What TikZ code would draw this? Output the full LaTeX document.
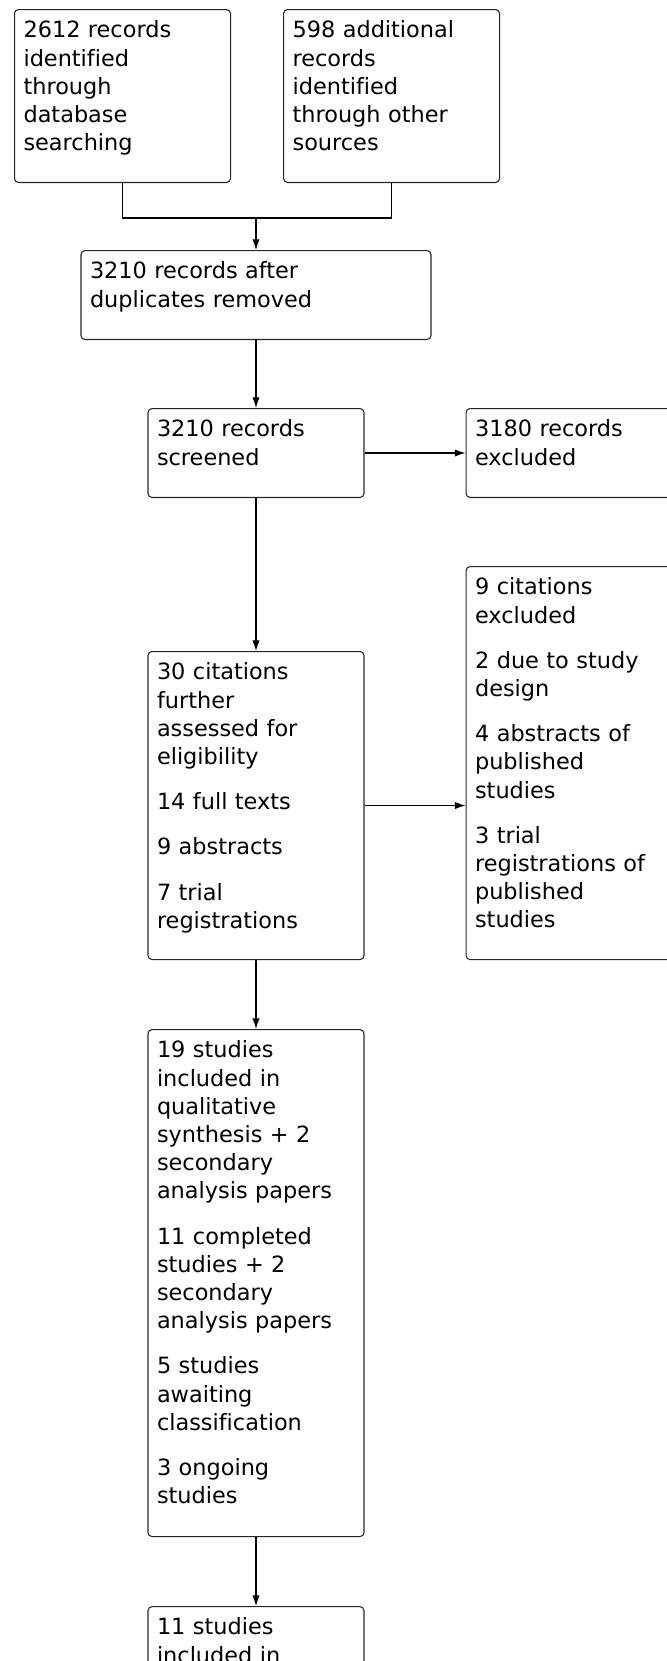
\documentclass[tikz,border=0pt]{standalone}
\usepackage{fontspec}
\setmainfont[Ligatures=NoCommon]{DejaVu Sans}
\usetikzlibrary{positioning,arrows.meta}
\begin{document}
\begin{tikzpicture}[
        box/.style={draw=black!85, line width=0.8pt, rounded corners=3pt,
            align=left, text width=148.5pt, inner xsep=6.75pt, inner ysep=0pt,
            text height=21.2pt, text depth=#1,
            font=\fontsize{16.8pt}{21.15pt}\selectfont},
        wide/.style={box=#1, text width=249pt},
        arr/.style={line width=0.9pt, -{Latex[length=8pt,width=5.5pt]}}
    ]
    \useasboundingbox (0,0) rectangle (500.25pt,-1245.75pt);
    \clip (0,0) rectangle (500.25pt,-1245.75pt);
    \node[box=108.5pt, anchor=north west] (id1) at (10.5pt,-6.75pt)
        {2612 records\\identified\\through\\database\\searching};
    \node[box=108.5pt, right=39pt of id1] (id2)
        {598 additional\\records\\identified\\through other\\sources};
    \node[wide=45.5pt, anchor=north] (dup) at (192pt,-187.5pt)
        {3210 records after\\duplicates removed};
    \node[box=45.5pt, below=51pt of dup] (scr) {3210 records\\screened};
    \node[box=45.5pt, right=75.75pt of scr] (ex1) {3180 records\\excluded};
    \node[box=209.8pt, below=114.75pt of scr] (elig)
        {30 citations\\further\\assessed for\\eligibility\\[12.75pt]
         14 full texts\\[12.75pt]
         9 abstracts\\[12.75pt]
         7 trial\\registrations};
    \node[box=273.5pt, anchor=south west] (ex2) at ([xshift=75.75pt]elig.south east)
        {9 citations\\excluded\\[12.75pt]
         2 due to study\\design\\[12.75pt]
         4 abstracts of\\published\\studies\\[12.75pt]
         3 trial\\registrations of\\published\\studies};
    \node[box=359pt, below=51.75pt of elig] (incl)
        {19 studies\\included in\\qualitative\\synthesis + 2\\secondary\\analysis papers\\[12.75pt]
         11 completed\\studies + 2\\secondary\\analysis papers\\[12.75pt]
         5 studies\\awaiting\\classification\\[12.75pt]
         3 ongoing\\studies};
    \node[box=150pt, below=51.75pt of incl] (meta) {11 studies\\included in};
    % connectors
    \coordinate (merge) at ([yshift=-26.25pt]id1.south -| dup.north);
    \draw[line width=0.9pt] (id1.south) |- (merge) -| (id2.south);
    \draw[arr] (merge) -- (dup);
    \draw[arr] (dup) -- (scr);
    \draw[arr] (scr) -- (ex1);
    \draw[arr] (scr) -- (elig);
    \draw[arr] (elig.east) -- (elig.east -| ex2.west);
    \draw[arr] (elig) -- (incl);
    \draw[arr] (incl) -- (meta);
\end{tikzpicture}
\end{document}
